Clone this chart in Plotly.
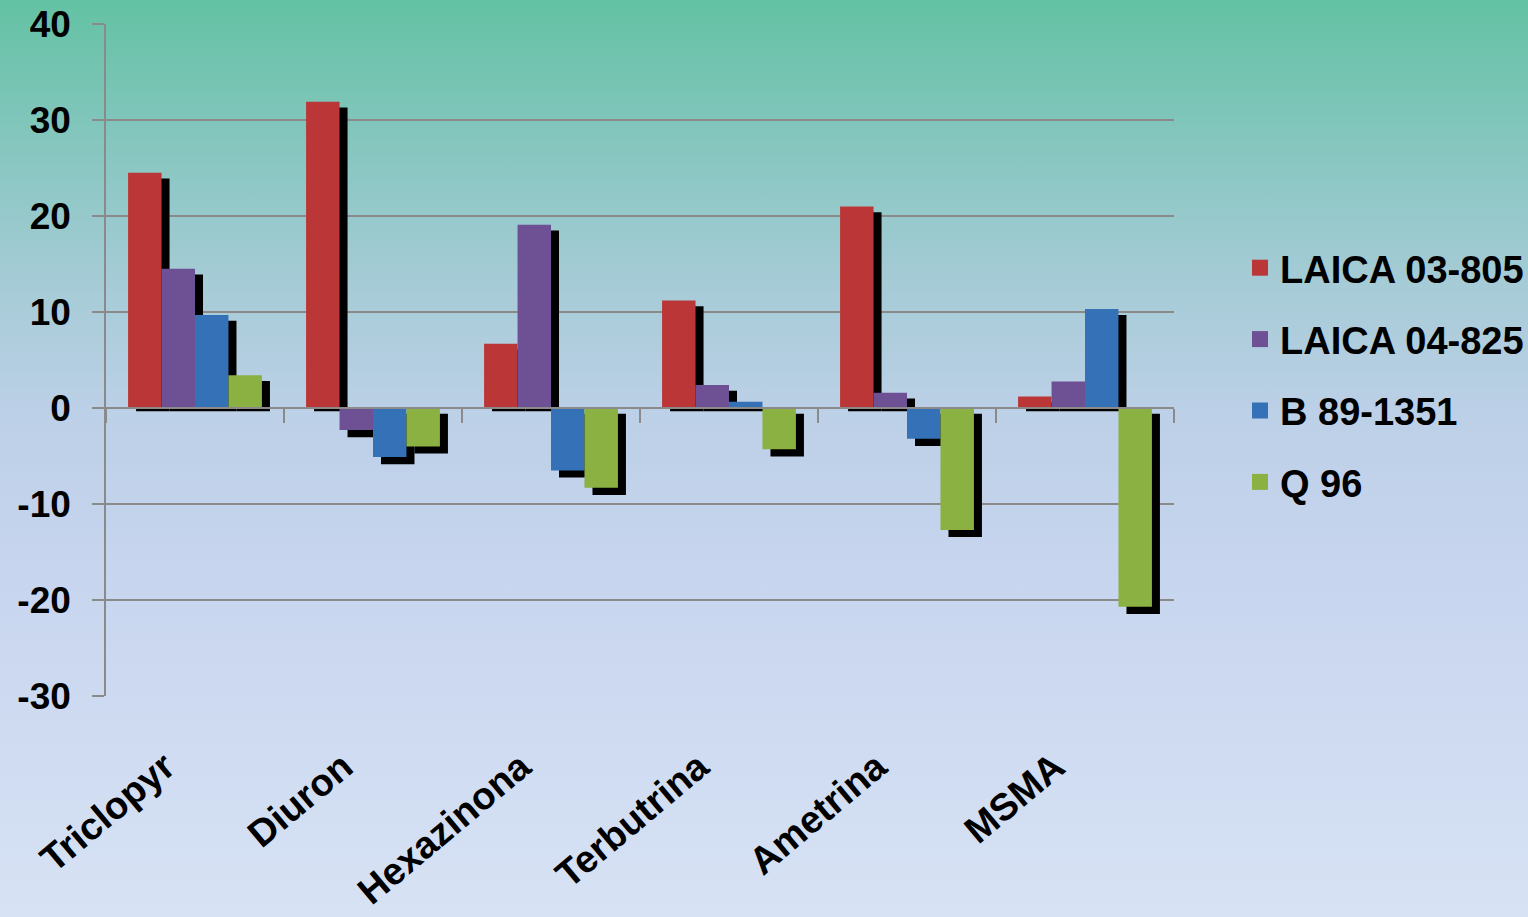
import base64
import plotly.graph_objects as go

categories = ["Triclopyr", "Diuron", "Hexazinona", "Terbutrina", "Ametrina", "MSMA"]
series_names = ["LAICA 03-805", "LAICA 04-825", "B 89-1351", "Q 96"]
laica_03_805 = [24.5, 31.9, 6.7, 11.2, 21.0, 1.2]
laica_04_825 = [14.5, -2.3, 19.1, 2.4, 1.6, 2.75]
b_89_1351 = [9.7, -5.1, -6.5, 0.65, -3.2, 10.3]
q_96 = [3.4, -4.0, -8.3, -4.3, -12.7, -20.7]
y_ticks = [-30, -20, -10, 0, 10, 20, 30, 40]
y_tick_labels = ["-30", "-20", "-10", "0", "10", "20", "30", "40"]

series_values = [laica_03_805, laica_04_825, b_89_1351, q_96]
colors = ["#bb3737", "#6e5094", "#3571b6", "#8ab141"]

W, H = 1528, 917
ML, MR, MT, MB = 106, 354, 24, 221
PW, PH = W - ML - MR, H - MT - MB

BAR_W = 0.188
SHADOW_DX = 0.045

x_idx = list(range(len(categories)))

fig = go.Figure()

# shadows first (drawn behind)
for i, vals in enumerate(series_values):
    bases = [(-0.35 if v >= 0 else -0.6) for v in vals]
    lens = [(v - 0.25 if v >= 0 else v - 0.15) for v in vals]
    fig.add_trace(go.Bar(
        x=x_idx, y=lens, base=bases,
        width=BAR_W, offset=-2 * BAR_W + i * BAR_W + SHADOW_DX,
        marker=dict(color="black", line=dict(width=0)),
        showlegend=False, hoverinfo="skip",
    ))

for i, vals in enumerate(series_values):
    fig.add_trace(go.Bar(
        x=x_idx, y=vals, name=series_names[i],
        width=BAR_W, offset=-2 * BAR_W + i * BAR_W,
        marker=dict(color=colors[i], line=dict(width=0)),
        showlegend=False,
    ))

# legend entries
for i, name in enumerate(series_names):
    fig.add_trace(go.Scatter(
        x=[None], y=[None], mode="markers", name=name,
        marker=dict(symbol="square", size=22, color=colors[i]),
        legendgroup=name,
    ))

# dummy trace for the zero-line axis
fig.add_trace(go.Scatter(x=[0], y=[0], xaxis="x2", mode="markers",
                         marker=dict(opacity=0), showlegend=False, hoverinfo="skip"))

svg = f'''<svg xmlns="http://www.w3.org/2000/svg" width="{W}" height="{H}" preserveAspectRatio="none">
<defs><linearGradient id="g" x1="0" y1="0" x2="0" y2="1">
<stop offset="0" stop-color="#63c2a3"/>
<stop offset="0.15" stop-color="#84c6be"/>
<stop offset="0.30" stop-color="#a4cbd5"/>
<stop offset="0.45" stop-color="#bcd0e7"/>
<stop offset="0.60" stop-color="#c6d4ee"/>
<stop offset="1" stop-color="#d7e2f4"/>
</linearGradient></defs>
<rect x="0" y="0" width="{W}" height="{H}" fill="url(#g)"/></svg>'''
bg_src = "data:image/svg+xml;base64," + base64.b64encode(svg.encode()).decode()

FONT = "Liberation Sans, Arial, sans-serif"
grid_c = "#8a8a8a"
fig.update_layout(
    width=W, height=H,
    margin=dict(l=ML, r=MR, t=MT, b=MB, pad=0, autoexpand=False),
    paper_bgcolor="#c6d4ee",
    plot_bgcolor="rgba(0,0,0,0)",
    barmode="overlay",
    font=dict(family=FONT, color="black"),
    images=[dict(source=bg_src, xref="paper", yref="paper",
                 x=-ML / PW, y=1 + MT / PH, sizex=W / PW, sizey=H / PH,
                 xanchor="left", yanchor="top", sizing="stretch", layer="below")],
    xaxis=dict(range=[-0.5, 5.5], tickmode="array", tickvals=x_idx, ticktext=categories,
               tickangle=-40, ticks="", showline=False, showgrid=False, zeroline=False,
               automargin=False,
               tickfont=dict(size=38, family=FONT, weight="bold"),
               ticklabelstandoff=40, ticklabelshift=-30),
    xaxis2=dict(overlaying="x", anchor="free", position=30 / 70, range=[-0.5, 5.5],
                tickmode="array", tickvals=[k - 0.5 for k in range(len(categories) + 1)],
                ticks="outside", ticklen=14, tickwidth=2, tickcolor=grid_c,
                showticklabels=False, showline=True, linecolor=grid_c, linewidth=2,
                showgrid=False, zeroline=False, automargin=False),
    yaxis=dict(range=[-30, 40], tickmode="array", tickvals=y_ticks, ticktext=y_tick_labels,
               showgrid=True, gridcolor=grid_c, gridwidth=1.5,
               ticks="outside", ticklen=12, tickwidth=1.5, tickcolor=grid_c,
               showline=True, linecolor=grid_c, linewidth=1.5, zeroline=False,
               automargin=False,
               tickfont=dict(size=37, family=FONT, weight="bold"),
               ticklabelstandoff=14),
    legend=dict(x=(1240 - ML) / PW, y=(696 - 375) / PH, xanchor="left", yanchor="middle",
                bgcolor="rgba(0,0,0,0)", tracegroupgap=19,
                font=dict(size=38, family=FONT, weight="bold")),
)

fig.write_html("out.html")
